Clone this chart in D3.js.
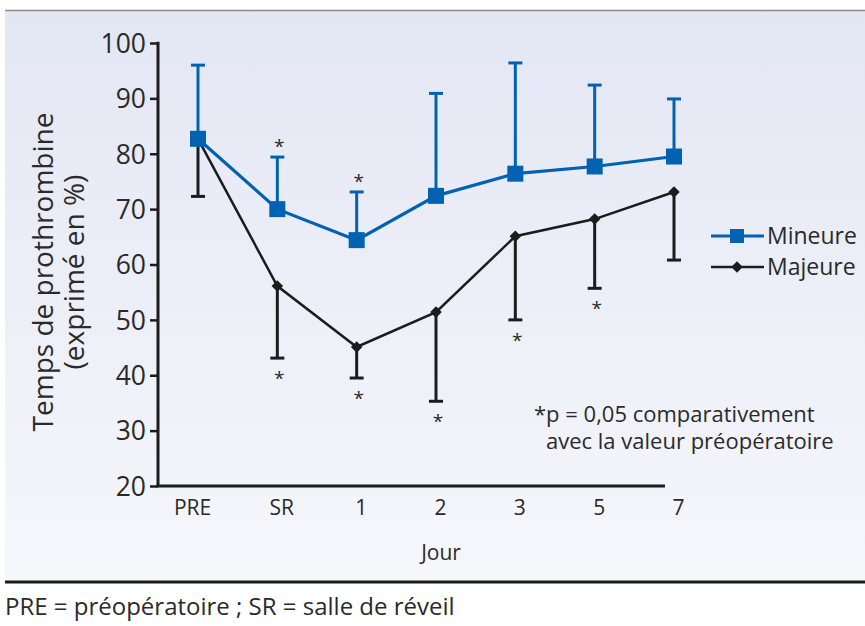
<!DOCTYPE html>
<html>
<head>
<meta charset="utf-8">
<script src="https://cdn.jsdelivr.net/npm/d3@7"></script>
<style>
  body { margin: 0; background: #fff; }
  svg { display: block; font-family: "Open Sans", sans-serif; }
</style>
</head>
<body>
<svg id="chart" width="865" height="626"></svg>
<script>
// ---- data ----
const days = ["PRE", "SR", "1", "2", "3", "5", "7"];
const mineure    = [82.7, 70.0, 64.4, 72.4, 76.4, 77.7, 79.5];
const mineureTop = [96.0, 79.4, 73.1, 90.9, 96.4, 92.4, 89.9];
const majeure    = [82.7, 56.1, 45.1, 51.4, 65.1, 68.2, 73.1];
const majeureLow = [72.3, 43.1, 39.5, 35.3, 50.0, 55.7, 60.8];
const starsMin = ["SR", "1"];
const starsMaj = ["SR", "1", "2", "3", "5"];
const yTicks = [20, 30, 40, 50, 60, 70, 80, 90, 100];

const BLUE = "#0062b1", BLACK = "#1c1c1c", TXT = "#2a2a2a";

const svg = d3.select("#chart");

// background panel
const defs = svg.append("defs");
const grad = defs.append("linearGradient").attr("id", "bg")
  .attr("x1", 0).attr("y1", 0).attr("x2", 0).attr("y2", 1);
grad.append("stop").attr("offset", "0%").attr("stop-color", "#e3e7f4");
grad.append("stop").attr("offset", "100%").attr("stop-color", "#f6f7fb");
svg.append("rect").attr("x", 5).attr("y", 11).attr("width", 860).attr("height", 570)
  .attr("fill", "url(#bg)");
svg.append("line").attr("x1", 5).attr("x2", 865).attr("y1", 10.5).attr("y2", 10.5)
  .attr("stroke", "#8a8a8a").attr("stroke-width", 1.5);
svg.append("line").attr("x1", 5).attr("x2", 865).attr("y1", 582).attr("y2", 582)
  .attr("stroke", BLACK).attr("stroke-width", 3);

// scales
const x = d3.scalePoint().domain(days).range([198, 674]);
const y = d3.scaleLinear().domain([20, 100]).range([486, 43]);

// axes
const yAxis = svg.append("g").attr("transform", "translate(158,0)")
  .call(d3.axisLeft(y).tickValues(yTicks).tickSize(8).tickPadding(4));
yAxis.select(".domain").remove();
yAxis.selectAll(".tick line").attr("stroke", BLACK).attr("stroke-width", 2.5);
yAxis.selectAll(".tick text").attr("fill", TXT).style("font-size", "26.5px")
  .style("font-family", "Open Sans").attr("dy", "0.35em");
svg.append("line").attr("x1", 158).attr("x2", 158).attr("y1", y(100) - 1.2).attr("y2", y(20))
  .attr("stroke", BLACK).attr("stroke-width", 3);

const xAxis = svg.append("g").attr("transform", "translate(0,486)")
  .call(d3.axisBottom(x).tickSize(0).tickPadding(14));
xAxis.select(".domain").remove();
xAxis.selectAll(".tick text").attr("fill", TXT).style("font-size", "21px")
  .style("font-family", "Open Sans").attr("dx", (d, i) => i === 0 ? -6 : 4);
svg.append("line").attr("x1", 156.5).attr("x2", 665).attr("y1", 486).attr("y2", 486)
  .attr("stroke", BLACK).attr("stroke-width", 3);

// axis titles
svg.append("text").attr("x", 441).attr("y", 560).attr("text-anchor", "middle")
  .attr("fill", TXT).style("font-size", "21px").text("Jour");
const yt = svg.append("text").attr("transform", "translate(53,272) rotate(-90)")
  .attr("text-anchor", "middle").attr("fill", TXT).style("font-size", "28px");
yt.append("tspan").attr("x", 0).attr("dy", 0).text("Temps de prothrombine");
yt.append("tspan").attr("x", 0).attr("dy", 31).text("(exprimé en %)");

// error bars
function errBars(vals, ends, color) {
  const g = svg.append("g").attr("stroke", color).attr("stroke-width", 3);
  days.forEach((d, i) => {
    g.append("line").attr("x1", x(d)).attr("x2", x(d))
      .attr("y1", y(vals[i])).attr("y2", y(ends[i]));
    g.append("line").attr("x1", x(d) - 7).attr("x2", x(d) + 7)
      .attr("y1", y(ends[i])).attr("y2", y(ends[i]));
  });
}
errBars(majeure, majeureLow, BLACK);
errBars(mineure, mineureTop, BLUE);

// lines
const line = d3.line().x((d, i) => x(days[i])).y(d => y(d));
svg.append("path").datum(majeure).attr("d", line).attr("fill", "none")
  .attr("stroke", BLACK).attr("stroke-width", 2.5);
svg.append("path").datum(mineure).attr("d", line).attr("fill", "none")
  .attr("stroke", BLUE).attr("stroke-width", 3.2);

// markers
const diamond = d3.symbol().type(d3.symbolDiamond2).size(85);
svg.append("g").selectAll("path").data(majeure).join("path")
  .attr("transform", (d, i) => `translate(${x(days[i])},${y(d)})`)
  .attr("d", diamond).attr("fill", BLACK);
svg.append("g").selectAll("rect").data(mineure).join("rect")
  .attr("x", (d, i) => x(days[i]) - 8).attr("y", d => y(d) - 8)
  .attr("width", 16).attr("height", 16).attr("fill", BLUE);

// significance stars
function stars(list, vals, ends, above) {
  svg.append("g").selectAll("text").data(list).join("text")
    .attr("x", d => x(d) + 2)
    .attr("y", d => {
      const i = days.indexOf(d);
      return above ? y(ends[i]) - 4 : y(ends[i]) + 27;
    })
    .attr("text-anchor", "middle").attr("fill", TXT).style("font-size", "19px")
    .text("*");
}
stars(starsMin, mineure, mineureTop, true);
stars(starsMaj, majeure, majeureLow, false);

// legend
const legend = [["Mineure", BLUE, "sq"], ["Majeure", BLACK, "dia"]];
legend.forEach(([name, color, m], i) => {
  const ly = 236 + i * 31;
  svg.append("line").attr("x1", 711).attr("x2", 764).attr("y1", ly).attr("y2", ly)
    .attr("stroke", color).attr("stroke-width", m === "sq" ? 3 : 2.5);
  if (m === "sq") {
    svg.append("rect").attr("x", 730).attr("y", ly - 7).attr("width", 14).attr("height", 14).attr("fill", color);
  } else {
    svg.append("path").attr("transform", `translate(737,${ly})`)
      .attr("d", diamond).attr("fill", color);
  }
  svg.append("text").attr("x", 767).attr("y", ly + 8).attr("fill", TXT)
    .style("font-size", "23px").text(name);
});

// note
const note = svg.append("text").attr("fill", TXT).style("font-size", "22px");
note.append("tspan").attr("x", 534).attr("y", 422).text("*p = 0,05 comparativement");
note.append("tspan").attr("x", 546).attr("y", 449).text("avec la valeur préopératoire");

// footnote
svg.append("text").attr("x", 5).attr("y", 615).attr("fill", TXT)
  .style("font-size", "24px").text("PRE = préopératoire ; SR = salle de réveil");
</script>
</body>
</html>
